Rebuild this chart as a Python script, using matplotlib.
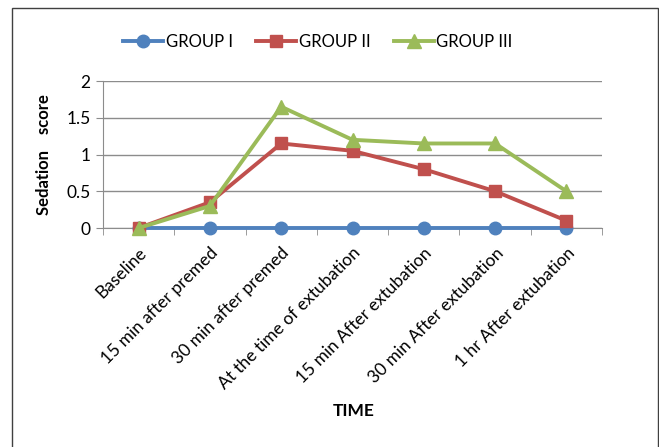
import matplotlib.pyplot as plt
from matplotlib.patches import Rectangle

plt.rcParams['font.family'] = ['Lato', 'DejaVu Sans']

# Data
categories = ['Baseline', '15 min after premed', '30 min after premed',
              'At the time of extubation', '15 min After extubation',
              '30 min After extubation', '1 hr After extubation']
group_1 = [0, 0, 0, 0, 0, 0, 0]
group_2 = [0, 0.35, 1.15, 1.05, 0.8, 0.5, 0.1]
group_3 = [0, 0.3, 1.65, 1.2, 1.15, 1.15, 0.5]

fig = plt.figure(figsize=(6.59, 4.47), dpi=100)
ax = fig.add_axes([103 / 659, 1 - 228 / 447, 499 / 659, 147 / 447])

x = list(range(len(categories)))
ax.plot(x, group_1, color='#4F81BD', lw=2.8, marker='o', ms=9, label='GROUP I', clip_on=False, zorder=3)
ax.plot(x, group_2, color='#C0504D', lw=2.8, marker='s', ms=9, label='GROUP II', clip_on=False, zorder=4)
ax.plot(x, group_3, color='#9BBB59', lw=2.8, marker='^', ms=10, label='GROUP III', clip_on=False, zorder=5)

ax.set_xlim(-0.5, len(categories) - 0.5)
ax.set_ylim(0, 2)
ax.set_yticks([0, 0.5, 1, 1.5, 2])
ax.set_yticklabels(['0', '0.5', '1', '1.5', '2'])
ax.yaxis.grid(True, color='#8c8c8c', lw=1)
ax.set_axisbelow(True)

ax.set_xticks(x)
ax.set_xticklabels(categories, rotation=45, ha='right', rotation_mode='anchor')
ax.set_xticks([i - 0.5 for i in range(len(categories) + 1)], minor=True)
ax.tick_params(axis='x', which='major', length=0, pad=12, labelsize=12.5, colors='black')
ax.tick_params(axis='x', which='minor', length=5, color='#8c8c8c')
ax.tick_params(axis='y', length=5, color='#8c8c8c', labelsize=12.5, pad=4)

for s in ['top', 'right']:
    ax.spines[s].set_visible(False)
ax.spines['left'].set_color('#8c8c8c')
ax.spines['bottom'].set_color('#8c8c8c')

ax.set_ylabel('Sedation    score', fontweight='bold', fontsize=12, labelpad=10)
fig.text(354 / 659, 1 - 411 / 447, 'TIME', fontweight='bold', fontsize=12.5, ha='center', va='center')

fig.legend(loc='center', bbox_to_anchor=(318 / 659, 1 - 42 / 447), ncol=3, frameon=False,
           fontsize=12, handlelength=2.4, columnspacing=1.4, handletextpad=0.15)

# chart area border
fig.patches.append(Rectangle((12 / 659, -0.1), 646 / 659, 1.1 - 8 / 447, transform=fig.transFigure,
                             fill=False, edgecolor='#404040', lw=1))

fig.savefig('out.png', dpi=100)
